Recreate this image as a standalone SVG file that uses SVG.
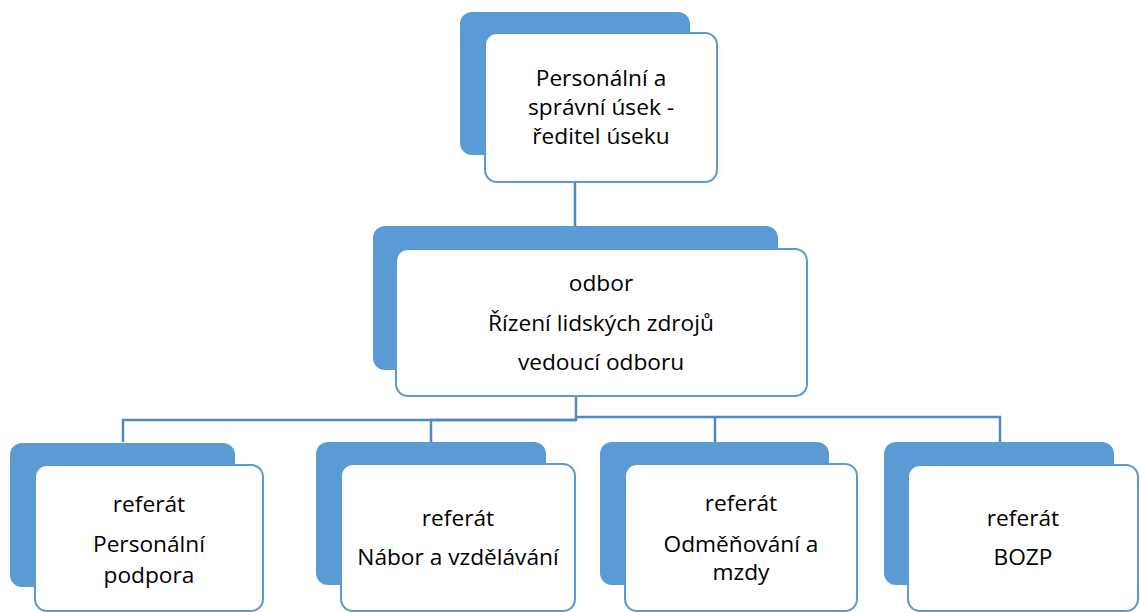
<svg xmlns="http://www.w3.org/2000/svg" width="1140" height="612" viewBox="0 0 1140 612">
<style>
.back{fill:#5B9BD5;}
.front{fill:#FFFFFF;stroke:#5B9BD5;stroke-width:2;}
.conn{fill:none;stroke:#5088C2;stroke-width:2.5;}
text{font-family:"Open Sans","Liberation Sans",sans-serif;font-size:22.7px;fill:#000000;text-anchor:middle;}
</style>
<rect width="1140" height="612" fill="#FFFFFF"/>
<g id="connectors">
<path class="conn" d="M575,182 V226"/>
<path class="conn" d="M576,396 V420 H123 V442"/>
<path class="conn" d="M576,420 H431 V442"/>
<path class="conn" d="M576,417 H715 V442"/>
<path class="conn" d="M715,417 H1000 V442"/>
</g>
<g id="node-usek">
<rect class="back" x="460" y="12" width="230" height="143" rx="12"/>
<rect class="front" x="485" y="33" width="232" height="149" rx="12"/>
<text x="601" y="86">Personální a</text>
<text x="601" y="115">správní úsek -</text>
<text x="601" y="144">ředitel úseku</text>
</g>
<g id="node-odbor">
<rect class="back" x="373" y="226" width="405" height="144" rx="12"/>
<rect class="front" x="396" y="249" width="411" height="147" rx="12"/>
<text x="601" y="291">odbor</text>
<text x="601" y="331">Řízení lidských zdrojů</text>
<text x="601" y="370">vedoucí odboru</text>
</g>
<g id="node-personalni">
<rect class="back" x="10" y="443" width="225" height="144" rx="12"/>
<rect class="front" x="35" y="465" width="228" height="146" rx="12"/>
<text x="149" y="512">referát</text>
<text x="149" y="552">Personální</text>
<text x="149" y="583">podpora</text>
</g>
<g id="node-nabor">
<rect class="back" x="316" y="442" width="230" height="143" rx="12"/>
<rect class="front" x="341" y="464" width="234" height="147" rx="12"/>
<text x="458" y="526">referát</text>
<text x="458" y="565">Nábor a vzdělávání</text>
</g>
<g id="node-odmenovani">
<rect class="back" x="600" y="442" width="229" height="143" rx="12"/>
<rect class="front" x="625" y="464" width="232" height="147" rx="12"/>
<text x="741" y="511">referát</text>
<text x="741" y="552">Odměňování a</text>
<text x="741" y="580">mzdy</text>
</g>
<g id="node-bozp">
<rect class="back" x="884" y="442" width="230" height="143" rx="12"/>
<rect class="front" x="908" y="465" width="230" height="146" rx="12"/>
<text x="1023" y="526">referát</text>
<text x="1023" y="565">BOZP</text>
</g>
</svg>
